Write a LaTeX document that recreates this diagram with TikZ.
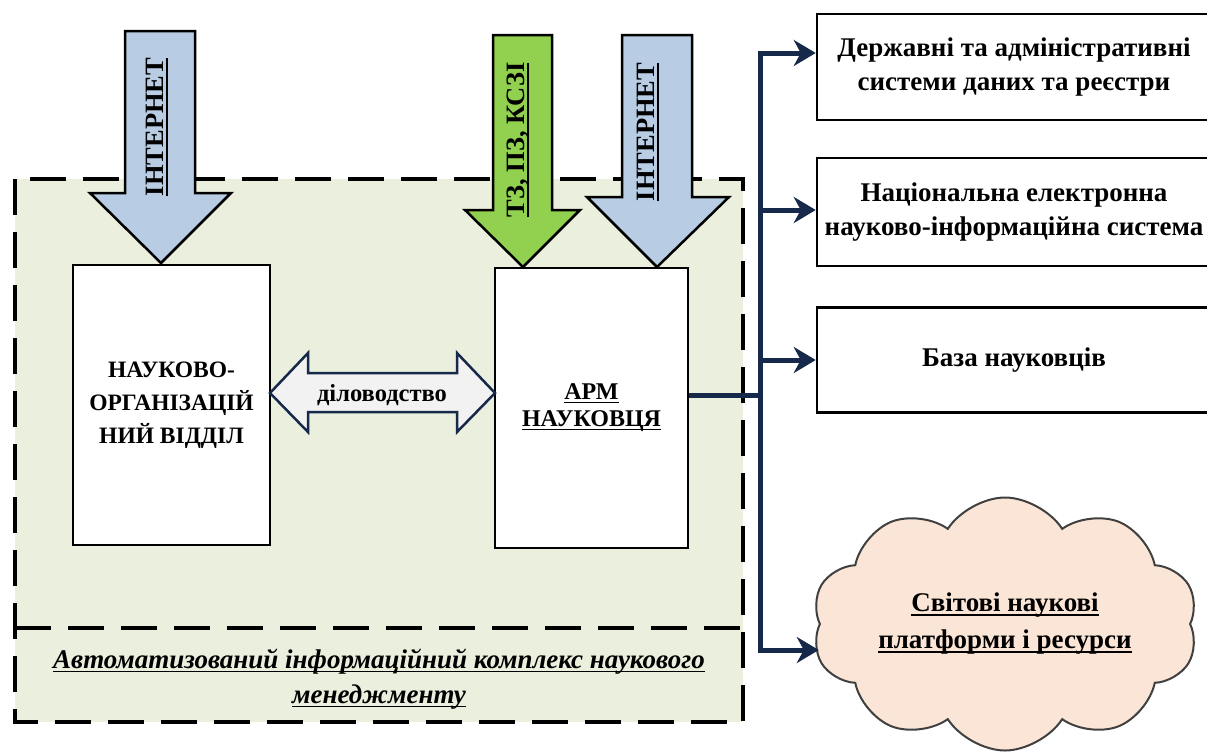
\documentclass[tikz,border=0pt]{standalone}
\usepackage{fontspec}
\setmainfont{Liberation Serif}
\usetikzlibrary{arrows.meta,shapes.symbols}

\definecolor{panelgreen}{RGB}{234,239,222}
\definecolor{netblue}{RGB}{184,204,228}
\definecolor{docgreen}{RGB}{146,208,80}
\definecolor{navy}{RGB}{23,41,74}
\definecolor{paleGray}{RGB}{242,242,242}
\definecolor{peach}{RGB}{251,229,214}

% underline at a fixed depth, as a word processor draws it
\newsavebox\ulbox
\newcommand\uln[1]{\sbox\ulbox{#1}\rlap{\vrule width\wd\ulbox height -0.09em depth 0.15em}\usebox\ulbox}

\begin{document}
\begin{tikzpicture}[x=1pt,y=-1pt,
    box/.style={draw,line width=2.5pt,fill=white,align=center},
    blockarrow/.style={draw,line width=2.5pt,line join=miter},
    dashline/.style={line width=4pt,dash pattern=on 36pt off 17pt},
    link/.style={draw=navy,line width=5pt,line join=miter,-{Stealth[length=22pt,width=26pt,inset=7pt]}}]
  \useasboundingbox (0,0) rectangle (1207,753);
  % panel
  \draw[dashline,fill=panelgreen] (15,179) rectangle (743,722);
  \draw[dashline] (15,628) -- (743,628);
  \node[font=\bfseries\itshape\fontsize{27}{35}\selectfont,align=center] (caption) at (379,679)
    {\uln{Автоматизований інформаційний комплекс наукового}\\\uln{менеджменту}};
  % inner boxes
  \node[box,minimum width=197pt,minimum height=280pt,font=\bfseries\fontsize{23.5}{33}\selectfont] (nvo) at (171.5,405)
    {НАУКОВО-\\ОРГАНІЗАЦІЙ\\НИЙ ВІДДІЛ};
  \node[box,minimum width=193pt,minimum height=280pt,font=\bfseries\fontsize{24}{27}\selectfont] (arm) at (591.5,408)
    {\uln{АРМ}\\\uln{НАУКОВЦЯ}};
  % block arrows
  \draw[blockarrow,fill=netblue] (125,31) -- (195,31) -- (195,193) -- (231,193) -- (161,263) -- (90,193) -- (125,193) -- cycle;
  \draw[blockarrow,fill=docgreen] (493,35) -- (552,35) -- (552,210) -- (580,210) -- (523,267) -- (465,210) -- (493,210) -- cycle;
  \draw[blockarrow,fill=netblue] (622,35) -- (692,35) -- (692,197) -- (729,197) -- (657,267) -- (587,197) -- (622,197) -- cycle;
  \node[rotate=90,font=\bfseries\fontsize{26.5}{30}\selectfont] (net1) at (157,127) {\uln{ІНТЕРНЕТ}};
  \node[rotate=90,font=\bfseries\fontsize{26.5}{30}\selectfont] (tz) at (518,140) {\uln{ТЗ, ПЗ, КСЗІ}};
  \node[rotate=90,font=\bfseries\fontsize{26.5}{30}\selectfont] (net2) at (648,132) {\uln{ІНТЕРНЕТ}};
  \draw[draw=navy,line width=2.5pt,fill=paleGray] (270,393) -- (308,353) -- (308,373) -- (457,373) -- (457,353)
    -- (495,393) -- (457,432) -- (457,412) -- (308,412) -- (308,432) -- cycle;
  \node[font=\bfseries\fontsize{24.5}{27}\selectfont] (dilo) at (382,395) {діловодство};
  % outer systems
  \node[box,minimum width=394pt,minimum height=106pt,font=\bfseries\fontsize{27}{34}\selectfont] (derzh) at (1014,67)
    {Державні та адміністративні\\системи даних та реєстри};
  \node[box,minimum width=394pt,minimum height=108pt,font=\bfseries\fontsize{27}{34}\selectfont] (nis) at (1014,212)
    {Національна електронна\\науково-інформаційна система};
  \node[box,minimum width=394pt,minimum height=105pt,font=\bfseries\fontsize{27}{34}\selectfont] (baza) at (1014,360)
    {База науковців};
  \node[cloud,cloud puffs=10,cloud puff arc=115,cloud ignores aspect,draw=black!75,fill=peach,line width=2pt,
    minimum width=386pt,minimum height=253pt,align=center,font=\bfseries\fontsize{27}{37}\selectfont] (svit) at (1005,624)
    {\uln{Світові наукові}\\\uln{платформи і ресурси}};
  % connectors
  \coordinate (hub) at (760,395);
  \draw[navy,line width=5pt] (arm.east |- hub) -- (hub);
  \draw[link] (hub) |- (derzh.west |- 0,53);
  \draw[link] (760,210) -- (nis.west |- 0,210);
  \draw[link] (760,360) -- (baza.west);
  \draw[link] (hub) |- (svit.west |- 0,650);
\end{tikzpicture}
\end{document}
